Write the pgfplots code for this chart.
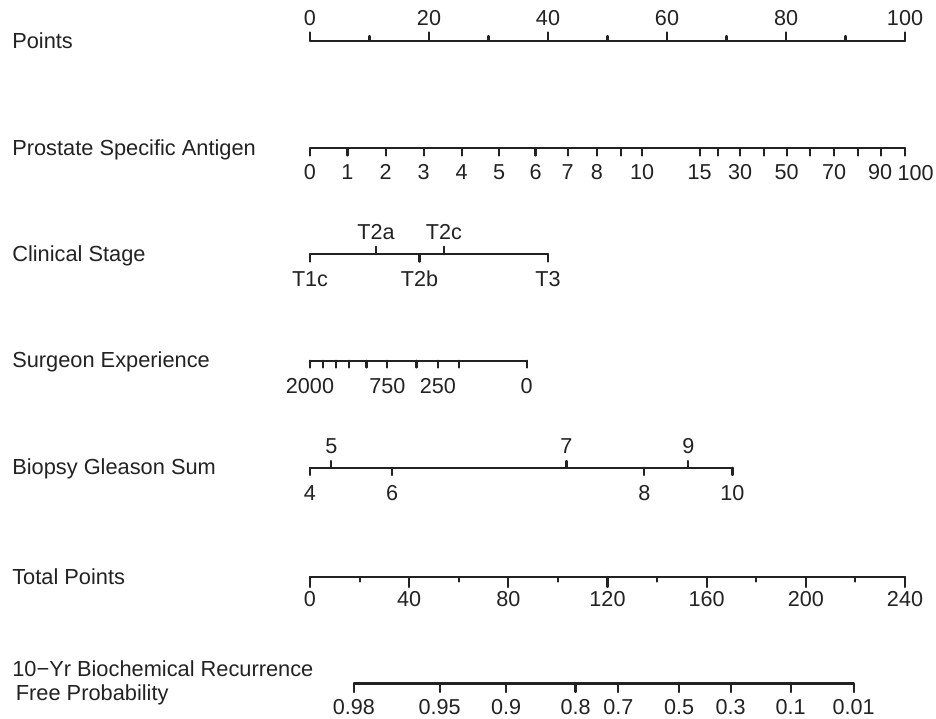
\documentclass[border=0pt]{standalone}
\usepackage{pgfplots}
\pgfplotsset{compat=1.18}
\usepackage{fontspec}
\setmainfont{Liberation Sans}
\definecolor{ink}{HTML}{222222}
\newcommand\ticksize{\fontsize{10.8bp}{12bp}\selectfont}
\newcommand\labsize{\fontsize{10.9bp}{12bp}\selectfont}
\tikzset{
  lab/.style={anchor=base, inner sep=0pt, font=\ticksize, text=ink},
  side/.style={anchor=base west, inner sep=0pt, font=\labsize, text=ink}}
\pgfplotsset{
  nom/.style={color=ink, line width=1.05bp, line cap=round, mark=none},
  tp/.style={x filter/.expression={x/2.4}}}
% ticks: [options]{y0}{y1}{list of x}
\newcommand\nomticks[4][]{%
  \foreach \xx in {#4}{%
    \edef\tmp{\noexpand\addplot[nom,#1] coordinates {(\xx,#2) (\xx,#3)};}\tmp}}
% labels: {divisor}{y baseline}{list x/text}
\newcommand\nomlabels[3]{%
  \foreach \xx/\lab in {#3}{%
    \pgfmathsetmacro\xv{\xx/#1}%
    \edef\tmp{\noexpand\node[lab] at (axis cs:\xv,#2) {\lab};}\tmp}}
\begin{document}
\begin{tikzpicture}
\begin{axis}[scale only axis, width=468bp, height=359.5bp,
  xmin=-52.101, xmax=105.21, ymin=0, ymax=719, y dir=reverse,
  hide axis, clip=false]
\coordinate (A) at (rel axis cs:0,0);
\coordinate (B) at (rel axis cs:1,1);

% ---------- Points ----------
\addplot[nom] coordinates {(0,40.7) (100,40.7)};
\nomticks{40.7}{32.3}{0,20,40,60,80,100}
\nomticks{40.7}{36}{10,30,50,70,90}
\nomlabels{1}{26}{0/0,20/20,40/40,60/60,80/80,100/100}
\node[side] at (axis cs:-50.1,48.3) {Points};

% ---------- Prostate Specific Antigen ----------
\addplot[nom] coordinates {(0,148.3) (100,148.3)};
\nomticks{148.3}{155.5}{0,6.3,12.7,19.1,25.5,31.8,37.9,43.3,48.2,52.2,55.8,65.5,68.5,72.3,76.3,80.1,84.1,88.1,92.1,96.0,100}
\nomlabels{1}{179}{0/0,6.3/1,12.7/2,19.1/3,25.5/4,31.8/5,37.9/6,43.3/7,48.2/8,55.8/10,65.5/15,72.3/30,80.1/50,88.1/70,95.8/90}
\nomlabels{1}{180.5}{101.8/100}
\node[side] at (axis cs:-50.1,155.3) {Prostate Specific Antigen};

% ---------- Clinical Stage ----------
\addplot[nom] coordinates {(0,254.3) (40,254.3)};
\nomticks{254.3}{246.7}{11.1,22.5}
\nomticks{254.3}{261.7}{0,18.4,40}
\nomlabels{1}{239.3}{11.1/T2a,22.5/T2c}
\nomlabels{1}{286}{0/T1c,18.4/T2b,40/T3}
\node[side] at (axis cs:-50.1,261.3) {Clinical Stage};

% ---------- Surgeon Experience ----------
\addplot[nom] coordinates {(0,360.7) (36.4,360.7)};
\nomticks{360.7}{367.5}{0,2.2,4.3,6.6,9.5,13.0,17.9,21.5,25.0,36.4}
\nomlabels{1}{393.3}{0/2000,13.0/750,21.5/250,36.4/0}
\node[side] at (axis cs:-50.1,367.3) {Surgeon Experience};

% ---------- Biopsy Gleason Sum ----------
\addplot[nom] coordinates {(0,467.7) (71.0,467.7)};
\nomticks{467.7}{461}{3.6,43.1,63.6}
\nomticks{467.7}{475}{0,13.8,56.2,71.0}
\nomlabels{1}{453.3}{3.6/5,43.1/7,63.6/9}
\nomlabels{1}{500}{0/4,13.8/6,56.2/8,71.0/10}
\node[side] at (axis cs:-50.1,474.2) {Biopsy Gleason Sum};

% ---------- Total Points ----------
\addplot[nom,tp] coordinates {(0,577) (240,577)};
\nomticks[tp]{577}{587}{0,40,80,120,160,200,240}
\nomticks[tp]{577}{581.5}{20,60,100,140,180,220}
\nomlabels{2.4}{606}{0/0,40/40,80/80,120/120,160/160,200/200,240/240}
\node[side] at (axis cs:-50.1,584) {Total Points};

% ---------- 10-Yr BCR Free Probability ----------
\addplot[nom,tp] coordinates {(17.7,683.5) (219.3,683.5)};
\nomticks[tp]{683.5}{692}{17.7,52.3,79.1,107.1,124.4,148.9,169.7,193.9,219.3}
\nomlabels{2.4}{714.5}{17.7/0.98,52.3/0.95,79.1/0.9,107.1/0.8,124.4/0.7,148.9/0.5,169.7/0.3,193.9/0.1,219.3/0.01}
\node[side] at (axis cs:-50.1,676.7) {10−Yr Biochemical Recurrence};
\node[side] at (axis cs:-49.5,700) {Free Probability};
\end{axis}
\pgfresetboundingbox
\path (A) rectangle (B);
\end{tikzpicture}
\end{document}
